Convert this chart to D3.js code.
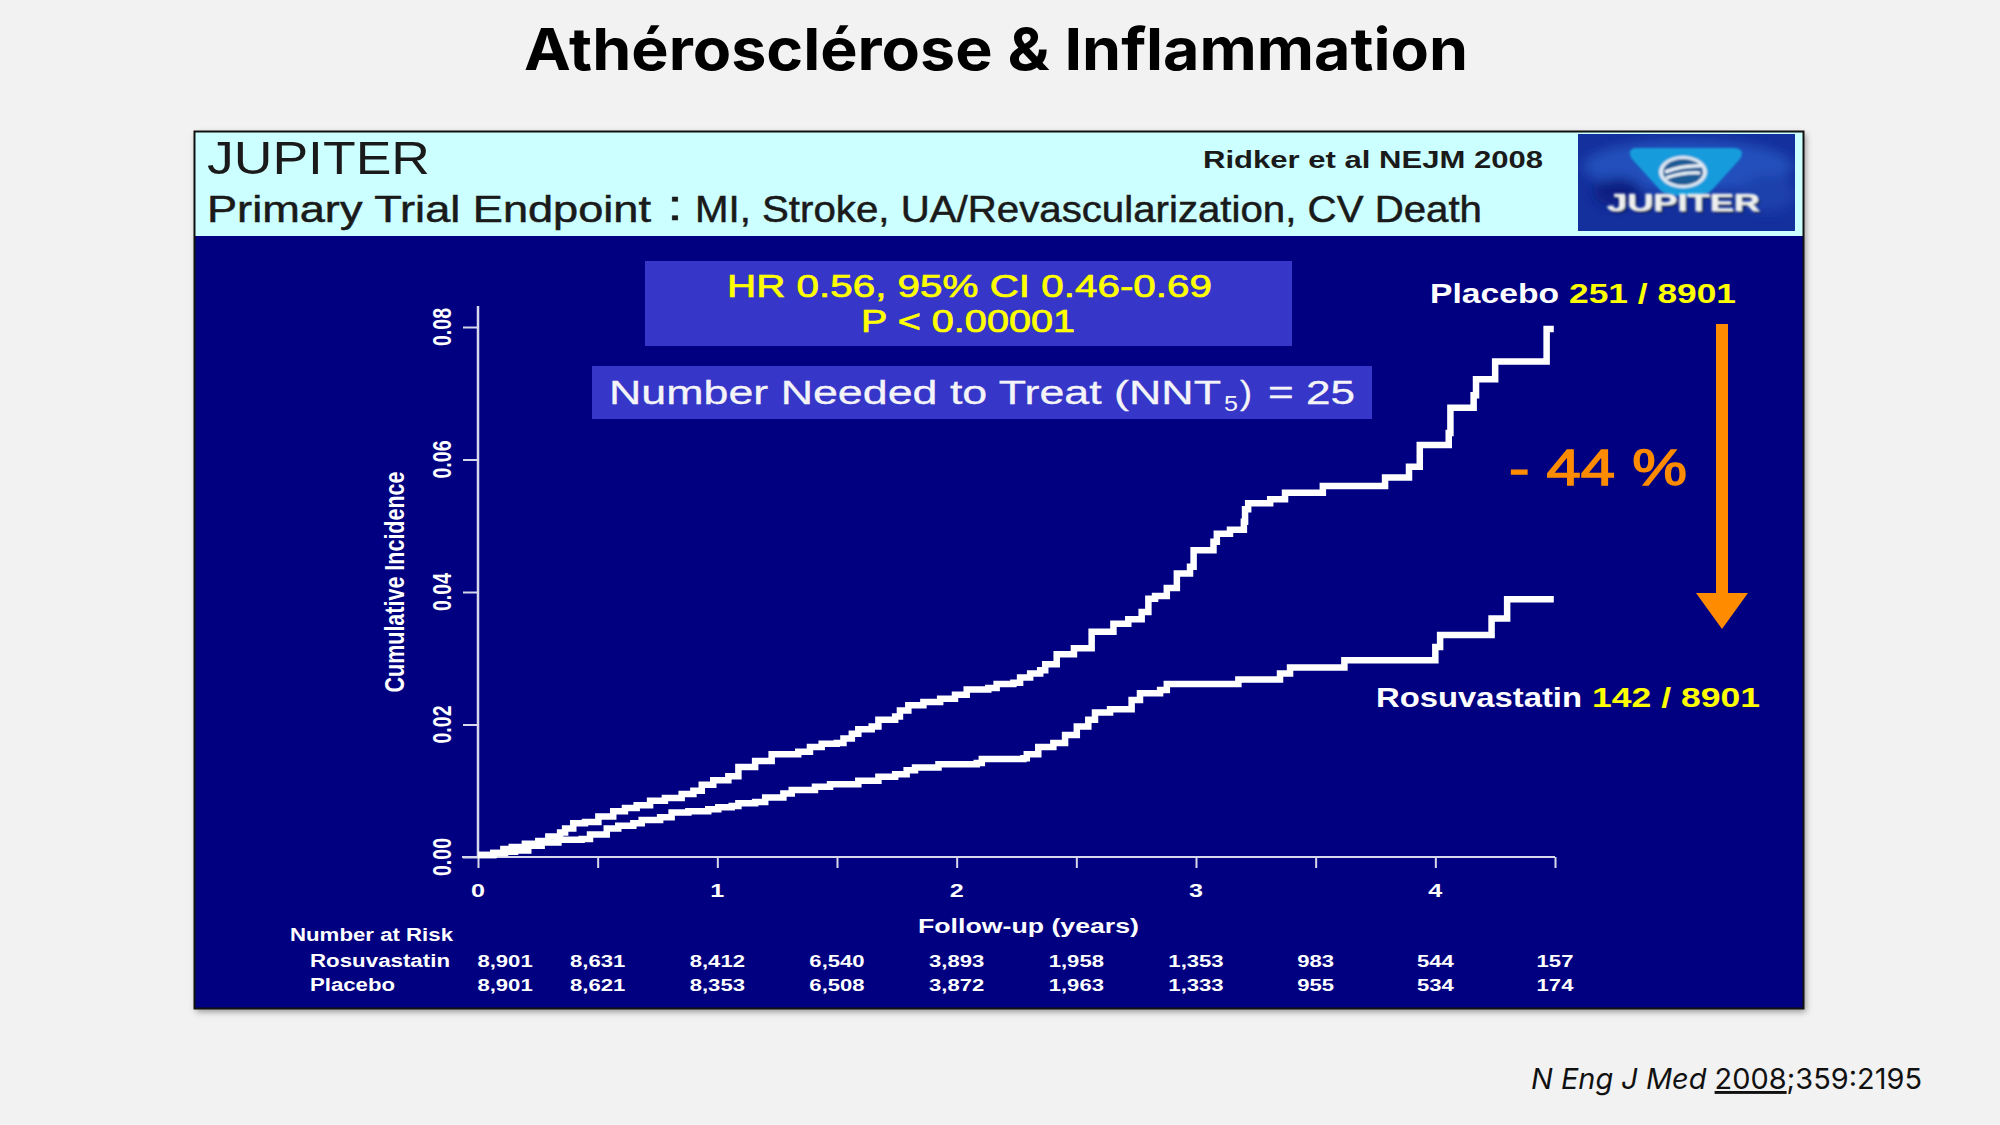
<!DOCTYPE html>
<html>
<head>
<meta charset="utf-8">
<script src="https://cdn.jsdelivr.net/npm/d3@7"></script>
<style>
  html, body { margin: 0; padding: 0; background: #f2f2f2; }
  svg { display: block; }
  text { font-family: "Liberation Sans", Arial, sans-serif; }
</style>
</head>
<body>
<div id="chart"></div>
<script>
const placebo = [
  [0, .0003], [.064, .0006], [.106, .0012], [.141, .0015], [.196, .002], [.252, .0024], [.294, .0031], [.343, .0037],
  [.364, .0043], [.398, .0051], [.447, .0053], [.503, .0061], [.565, .0069], [.614, .0074], [.663, .0078], [.719, .0085],
  [.781, .0089], [.851, .0095], [.90, .01], [.935, .0109], [.983, .0116], [1.046, .0122], [1.088, .0136], [1.158, .0145],
  [1.227, .0155], [1.338, .0159], [1.387, .0166], [1.436, .0171], [1.499, .0172], [1.527, .0179], [1.562, .0186],
  [1.589, .0193], [1.645, .0197], [1.673, .0207], [1.743, .0212], [1.763, .0221], [1.798, .0229], [1.861, .0234],
  [1.931, .0239], [1.993, .0245], [2.042, .0253], [2.132, .0255], [2.167, .0261], [2.237, .0263], [2.265, .0271],
  [2.307, .0277], [2.349, .0282], [2.37, .0291], [2.418, .0306], [2.49, .0315], [2.564, .034], [2.655, .0352],
  [2.717, .0359], [2.773, .037], [2.801, .039], [2.829, .0394], [2.878, .0406], [2.92, .0428], [2.975, .0438],
  [2.99, .0463], [3.073, .0476], [3.087, .0488], [3.142, .0494], [3.2, .0506], [3.205, .0525], [3.218, .0534],
  [3.31, .054], [3.372, .055], [3.53, .056], [3.79, .0573], [3.89, .0589], [3.935, .0622], [4.056, .064],
  [4.063, .0678], [4.16, .0697], [4.17, .0721], [4.25, .0748], [4.465, .0797], [4.495, .0797]
];
const rosuvastatin = [
  [0, .0003], [.064, .0006], [.113, .0008], [.155, .001], [.21, .0017], [.266, .0022], [.336, .0026], [.433, .0027],
  [.468, .0034], [.538, .0043], [.586, .0047], [.649, .0051], [.684, .0056], [.761, .006], [.809, .0067], [.879, .0069],
  [.962, .0072], [1.004, .0075], [1.06, .0077], [1.088, .0081], [1.158, .0083], [1.2, .009], [1.276, .0096],
  [1.311, .0101], [1.408, .0106], [1.471, .011], [1.589, .0115], [1.673, .0121], [1.743, .0125], [1.791, .0131],
  [1.826, .0135], [1.924, .014], [2.084, .0142], [2.105, .0148], [2.279, .0149], [2.293, .0155], [2.341, .0166],
  [2.404, .0172], [2.453, .0184], [2.502, .0197], [2.55, .0207], [2.578, .0218], [2.641, .0223], [2.731, .0237],
  [2.766, .0247], [2.85, .0252], [2.878, .0261], [3.177, .0268], [3.351, .0277], [3.393, .0286], [3.62, .0297],
  [4.0, .0317], [4.02, .0335], [4.235, .036], [4.30, .0389], [4.495, .0389]
];
const yTicks = [0, .02, .04, .06, .08];
const xMajor = [0, 1, 2, 3, 4];
const xMinor = [.5, 1.5, 2.5, 3.5, 4.5];
const riskYears = [.113, .5, 1, 1.5, 2, 2.5, 3, 3.5, 4, 4.5];
const riskRosu = ['8,901', '8,631', '8,412', '6,540', '3,893', '1,958', '1,353', '983', '544', '157'];
const riskPlacebo = ['8,901', '8,621', '8,353', '6,508', '3,872', '1,963', '1,333', '955', '534', '174'];

const W = 2000, H = 1125;
const svg = d3.select('#chart').append('svg').attr('width', W).attr('height', H);
const x = d3.scaleLinear().domain([0, 4.5]).range([478, 1555]);
const y = d3.scaleLinear().domain([0, .08]).range([857, 327]);

// text helper, width stretches or squeezes the glyphs like the stretched slide
function put(parent, str, px, py, size, width, o = {}) {
  const t = parent.append('text').text(str).attr('x', px).attr('y', py)
    .attr('font-size', size).attr('fill', o.fill || '#fff').attr('font-weight', o.weight || 'normal');
  if (width) t.attr('textLength', width).attr('lengthAdjust', 'spacingAndGlyphs');
  if (o.anchor) t.attr('text-anchor', o.anchor);
  if (o.family) t.style('font-family', o.family);
  if (o.stroke) t.attr('stroke', o.fill || '#fff').attr('stroke-width', o.stroke);
  return t;
}

svg.append('rect').attr('width', W).attr('height', H).attr('fill', '#f2f2f2');

put(svg, 'Athérosclérose & Inflammation', 524, 70, 58, 944, { fill: '#000', weight: 'bold', family: 'Inter' });

// citation
const cite = put(svg, '', 1531, 1089, 29, 391, { fill: '#111', family: 'Inter' });
cite.append('tspan').text('N Eng J Med ').attr('font-style', 'italic');
cite.append('tspan').text('2008').attr('text-decoration', 'underline');
cite.append('tspan').text(';359:2195');

// panel
const defs = svg.append('defs');
const blur = defs.append('filter').attr('id', 'soft').attr('x', '-5%').attr('y', '-5%').attr('width', '110%').attr('height', '110%');
blur.append('feGaussianBlur').attr('stdDeviation', 3);
const logoBlur = defs.append('filter').attr('id', 'logoSoft').attr('x', '-10%').attr('y', '-10%').attr('width', '120%').attr('height', '120%');
logoBlur.append('feGaussianBlur').attr('stdDeviation', 1);
const swirl = defs.append('filter').attr('id', 'swirl').attr('x', '-20%').attr('y', '-20%').attr('width', '140%').attr('height', '140%');
swirl.append('feGaussianBlur').attr('stdDeviation', 6);
defs.append('clipPath').attr('id', 'logoClip').append('rect').attr('width', 217).attr('height', 97);
svg.append('rect').attr('x', 196).attr('y', 134).attr('width', 1610).attr('height', 878).attr('fill', '#999').attr('filter', 'url(#soft)');
svg.append('rect').attr('x', 194).attr('y', 131).attr('width', 1610).attr('height', 878).attr('fill', '#000080');
svg.append('rect').attr('x', 195).attr('y', 132).attr('width', 1608).attr('height', 104).attr('fill', '#ccffff');
svg.append('rect').attr('x', 194.5).attr('y', 131.5).attr('width', 1609).attr('height', 877).attr('fill', 'none').attr('stroke', '#111').attr('stroke-width', 2);

const ink = '#1a1a1a';
put(svg, 'JUPITER', 207, 174, 46, 223, { fill: ink });
put(svg, 'Ridker et al NEJM 2008', 1203, 168, 24, 340, { fill: ink, weight: 'bold' });
put(svg, 'Primary Trial Endpoint', 207, 222, 36, 444, { fill: ink, stroke: .5 });
put(svg, ':', 667, 220, 42, 16, { fill: ink, stroke: .5 });
put(svg, 'MI, Stroke, UA/Revascularization, CV Death', 695, 222, 36, 787, { fill: ink, stroke: .5 });

// logo
const logo = svg.append('g').attr('transform', 'translate(1578,134)').attr('clip-path', 'url(#logoClip)');
logo.append('rect').attr('width', 217).attr('height', 97).attr('fill', '#14309c');
const logoArt = logo.append('g').attr('filter', 'url(#swirl)');
logoArt.append('ellipse').attr('cx', 110).attr('cy', 32).attr('rx', 105).attr('ry', 26).attr('fill', '#2450bc');
logoArt.append('ellipse').attr('cx', 40).attr('cy', 58).attr('rx', 24).attr('ry', 14).attr('fill', '#0c1e80');
logoArt.append('ellipse').attr('cx', 190).attr('cy', 60).attr('rx', 28).attr('ry', 18).attr('fill', '#1c40ac');
const shield = logo.append('g').attr('filter', 'url(#logoSoft)');
shield.append('path').attr('d', 'M58 14 H156 Q168 15 162 25 L134 56 Q128 62 108 62 Q88 62 82 56 L54 25 Q48 15 58 14 Z').attr('fill', '#149cdc');
shield.append('ellipse').attr('cx', 105).attr('cy', 38).attr('rx', 24).attr('ry', 16).attr('fill', '#dfeaf4');
shield.append('ellipse').attr('cx', 105).attr('cy', 38).attr('rx', 20).attr('ry', 13).attr('fill', '#1f5c96');
shield.append('path').attr('d', 'M87 38 Q105 31 123 32 M88 44 Q105 38 122 39').attr('stroke', '#eef4fa').attr('stroke-width', 3).attr('fill', 'none');
const logoText = logo.append('g').attr('filter', 'url(#logoSoft)');
put(logoText, 'JUPITER', 31, 79, 24, 153, { fill: '#1a2a50', weight: 'bold' });
put(logoText, 'JUPITER', 29, 77, 24, 153, { fill: '#eef0ee', weight: 'bold', stroke: .6 });

// stat boxes
svg.append('rect').attr('x', 645).attr('y', 261).attr('width', 647).attr('height', 85).attr('fill', '#3636c8');
svg.append('rect').attr('x', 592).attr('y', 366).attr('width', 780).attr('height', 53).attr('fill', '#3636c8');
put(svg, 'HR 0.56, 95% CI 0.46-0.69', 727, 297, 31, 485, { fill: '#ffff00', stroke: .7 });
put(svg, 'P < 0.00001', 861, 332, 31, 214, { fill: '#ffff00', stroke: .7 });
put(svg, 'Number Needed to Treat (NNT', 609, 404, 33, 612, { fill: '#f4f4f8', stroke: .3 });
put(svg, '5', 1224, 411, 22, 14, { fill: '#f4f4f8' });
put(svg, ')', 1240, 404, 33, 12, { fill: '#f4f4f8', stroke: .3 });
put(svg, '= 25', 1268, 404, 33, 87, { fill: '#f4f4f8', stroke: .3 });

// axes
const axisColor = '#d8d8ec';
const gy = svg.append('g').attr('transform', `translate(${x(0)},0)`)
  .call(d3.axisLeft(y).tickValues(yTicks).tickSize(15).tickFormat(''));
gy.select('.domain').remove();
gy.selectAll('line').attr('stroke', axisColor).attr('stroke-width', 2);
svg.append('line').attr('x1', x(0)).attr('x2', x(0)).attr('y1', 306).attr('y2', y(0))
  .attr('stroke', axisColor).attr('stroke-width', 2.5);

const gx = svg.append('g').attr('transform', `translate(0,${y(0)})`)
  .call(d3.axisBottom(x).tickValues(xMajor.concat(xMinor)).tickSize(11).tickFormat(''));
gx.select('.domain').remove();
gx.selectAll('line').attr('stroke', axisColor).attr('stroke-width', 2);
svg.append('line').attr('x1', 462).attr('x2', x(4.5)).attr('y1', y(0)).attr('y2', y(0))
  .attr('stroke', axisColor).attr('stroke-width', 2);

xMajor.forEach(d => put(svg, String(d), x(d), 897, 19, 14, { anchor: 'middle', weight: 'bold' }));
yTicks.forEach(d => {
  put(svg, d.toFixed(2), 0, 0, 25, 38, { anchor: 'middle', weight: 'bold' })
    .attr('transform', `translate(451,${y(d)}) rotate(-90)`);
});
put(svg, 'Cumulative Incidence', 0, 0, 28, 221, { anchor: 'middle', weight: 'bold' })
  .attr('transform', 'translate(404,582) rotate(-90)');
put(svg, 'Follow-up (years)', 918, 933, 20, 221, { weight: 'bold' });

// curves
const line = d3.line().x(d => x(d[0])).y(d => y(d[1])).curve(d3.curveStepAfter);
[placebo, rosuvastatin].forEach(s => {
  svg.append('path').datum(s).attr('d', line).attr('fill', 'none')
    .attr('stroke', '#fff').attr('stroke-width', 6.5).attr('stroke-linejoin', 'miter');
});

// curve labels
put(svg, 'Placebo', 1430, 303, 28, 129, { weight: 'bold' });
put(svg, '251 / 8901', 1569, 303, 28, 167, { fill: '#ffff00', weight: 'bold' });
put(svg, 'Rosuvastatin', 1376, 707, 28, 206, { weight: 'bold' });
put(svg, '142 / 8901', 1592, 707, 28, 168, { fill: '#ffff00', weight: 'bold' });

// reduction arrow
svg.append('path').attr('d', 'M1716 324 H1728 V593 H1748 L1722 629 L1696 593 H1716 Z').attr('fill', '#ff8c00');
put(svg, '- 44 %', 1509, 485, 50, 178, { fill: '#ff8c00', stroke: 1.4 });

// number at risk table
put(svg, 'Number at Risk', 290, 941, 18, 163, { weight: 'bold' });
put(svg, 'Rosuvastatin', 310, 967, 18, 140, { weight: 'bold' });
put(svg, 'Placebo', 310, 991, 18, 85, { weight: 'bold' });
[[riskRosu, 967], [riskPlacebo, 991]].forEach(([vals, py]) => {
  vals.forEach((v, i) => {
    put(svg, v, 0, 0, 17, null, { anchor: 'middle', weight: 'bold' })
      .attr('transform', `translate(${x(riskYears[i])},${py}) scale(1.3,1)`);
  });
});
</script>
</body>
</html>
